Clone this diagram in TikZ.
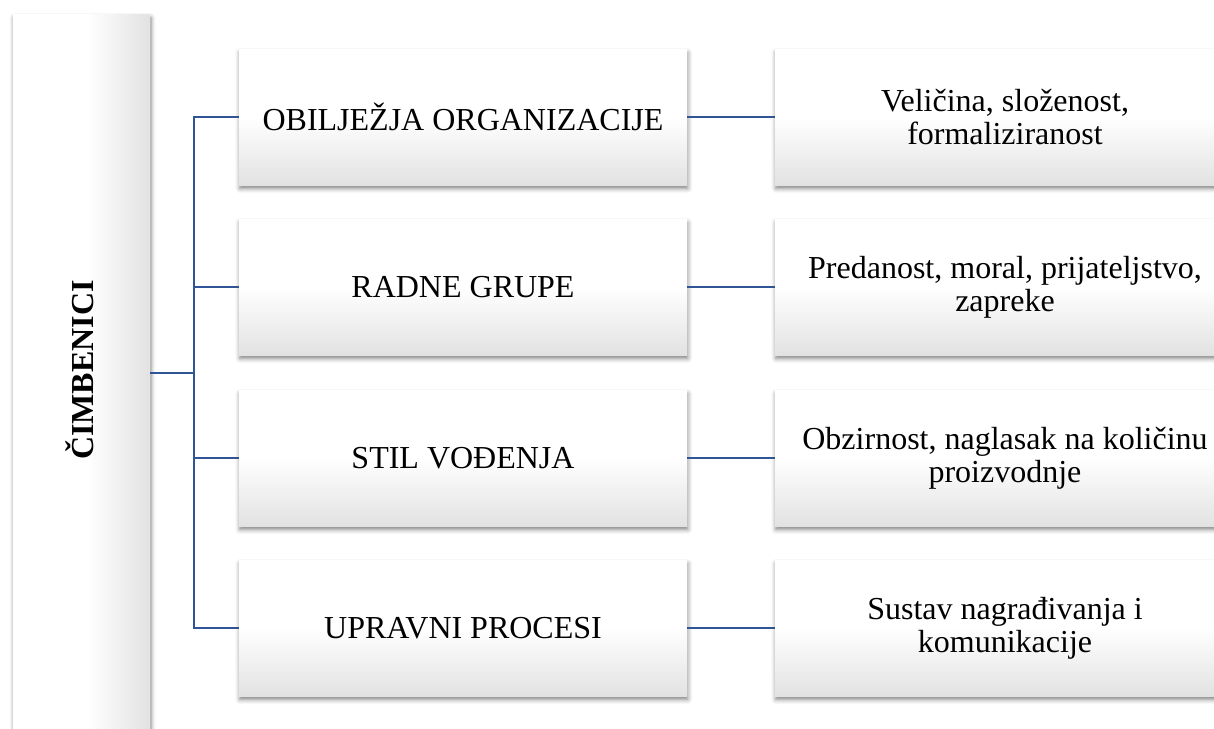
\documentclass[tikz,border=0pt]{standalone}
\usepackage{fontspec}
\setmainfont{Liberation Serif}
\usetikzlibrary{shadows.blur}
\definecolor{linkblue}{RGB}{47,85,151}
\definecolor{boxgray}{RGB}{226,226,226}
\pgfdeclareverticalshading{boxshade}{100bp}{color(0bp)=(boxgray); color(25bp)=(boxgray); color(50bp)=(white); color(100bp)=(white)}
\pgfdeclarehorizontalshading{sideshade}{100bp}{color(0bp)=(white); color(52bp)=(white); color(75bp)=(boxgray); color(100bp)=(boxgray)}
\tikzset{
  boxbase/.style={inner sep=0pt, align=center, font=\fontsize{32}{33}\selectfont,
    blur shadow={shadow xshift=0.8pt, shadow yshift=-3.5pt, shadow blur radius=4.5pt, shadow opacity=50}},
  midbox/.style={boxbase, shading=boxshade, minimum width=448pt, minimum height=136pt},
  rightbox/.style={boxbase, shading=boxshade, minimum width=460pt, minimum height=136pt},
  sidebox/.style={boxbase, shading=sideshade, minimum width=137pt, minimum height=740pt},
  conn/.style={draw=linkblue, line width=2.8pt, line join=miter}
}
\begin{document}
\begin{tikzpicture}[x=1pt, y=-1pt]
\useasboundingbox (0,0) rectangle (1214,728);
\node[sidebox, anchor=north west] (L) at (13,14) {};
\node[rotate=90, font=\fontsize{32}{33}\selectfont\bfseries] (Lt) at (80,370) {ČIMBENICI};

\node[midbox] (m1) at (463,117) {OBILJEŽJA ORGANIZACIJE};
\node[midbox] (m2) at (463,287) {RADNE GRUPE};
\node[midbox] (m3) at (463,458) {STIL VOĐENJA};
\node[midbox] (m4) at (463,628) {UPRAVNI PROCESI};

\node[rightbox] (r1) at (1005,117) {Veličina, složenost,\\formaliziranost};
\node[rightbox] (r2) at (1005,287) {Predanost, moral, prijateljstvo,\\zapreke};
\node[rightbox] (r3) at (1005,458) {Obzirnost, naglasak na količinu\\proizvodnje};
\node[rightbox] (r4) at (1005,628) {Sustav nagrađivanja i\\komunikacije};

\coordinate (bus) at (194,373);
\draw[conn] (L.east |- bus) -- (bus);
\draw[conn] (m1.west) -- (m1.west -| bus) -- (m4.west -| bus) -- (m4.west);
\draw[conn] (m2.west -| bus) -- (m2.west);
\draw[conn] (m3.west -| bus) -- (m3.west);
\draw[conn] (m1.east) -- (r1.west);
\draw[conn] (m2.east) -- (r2.west);
\draw[conn] (m3.east) -- (r3.west);
\draw[conn] (m4.east) -- (r4.west);
\end{tikzpicture}
\end{document}
